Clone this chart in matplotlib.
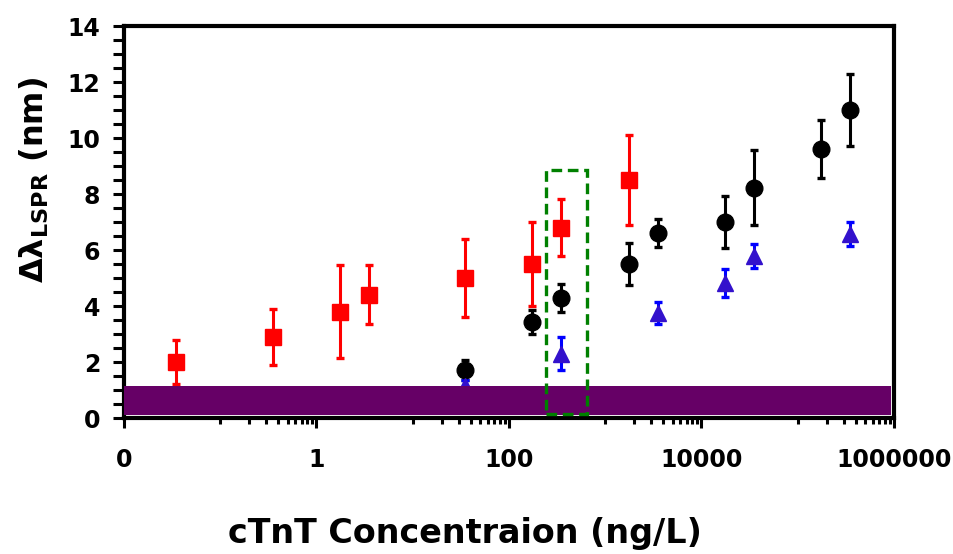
import matplotlib
matplotlib.use("Agg")
import matplotlib.pyplot as plt
from matplotlib.patches import Rectangle
from matplotlib.ticker import FixedLocator, FixedFormatter, NullFormatter

# ---- data ----
red_x = [0.035, 0.35, 1.75, 3.5, 35, 175, 350, 1750]
red_y = [2.0, 2.9, 3.8, 4.4, 5.0, 5.5, 6.8, 8.5]
red_err = [0.8, 1.0, 1.65, 1.05, 1.4, 1.5, 1.03, 1.6]

black_x = [35, 175, 350, 1750, 3500, 17500, 35000, 175000, 350000]
black_y = [1.71, 3.42, 4.3, 5.5, 6.6, 7.0, 8.23, 9.6, 11.0]
black_err = [0.35, 0.42, 0.5, 0.74, 0.5, 0.92, 1.33, 1.03, 1.3]

blue_x = [35, 350, 3500, 17500, 35000, 350000]
blue_y = [1.15, 2.3, 3.75, 4.83, 5.78, 6.58]
blue_err = [0.2, 0.6, 0.4, 0.5, 0.43, 0.42]

band_y = [0.1, 1.15]
box_x = [242, 646]
box_y = [0.14, 8.86]

x_major = [0.01, 1, 100, 10000, 1000000]
x_labels = ["0", "1", "100", "10000", "1000000"]
y_major = [0, 2, 4, 6, 8, 10, 12, 14]

plt.rcParams['font.family'] = ['DejaVu Sans']
plt.rcParams['font.weight'] = 'bold'

fig = plt.figure(figsize=(9.54, 5.54), dpi=100)
ax = fig.add_axes([124/954, 1-418/554, (894-124)/954, (418-26)/554])

ax.set_xscale('log')
ax.set_xlim(0.01, 1000000)
ax.set_ylim(0, 14)

ecap = dict(capsize=2.6, capthick=2.4, elinewidth=2.2)
ax.errorbar(red_x, red_y, yerr=red_err, fmt='s', color='#FF0000', ecolor='#FF0000',
            ms=11.5, mec='#FF0000', zorder=3, **ecap)
ax.errorbar(black_x, black_y, yerr=black_err, fmt='o', color='black', ecolor='black',
            ms=12, zorder=3, **ecap)
ax.errorbar(blue_x, blue_y, yerr=blue_err, fmt='^', color='#3311CC', ecolor='#0000FF',
            ms=11, mec='#3311CC', zorder=3, **ecap)

ax.axhspan(band_y[0], band_y[1], xmin=0, xmax=0.996, color='#660066', lw=0, zorder=4)

rect = Rectangle((box_x[0], box_y[0]), box_x[1]-box_x[0], box_y[1]-box_y[0],
                 fill=False, edgecolor='#008000', lw=2.4, linestyle=(0, (3.2, 1.7)), zorder=5)
ax.add_patch(rect)

# ticks
ax.xaxis.set_major_locator(FixedLocator(x_major))
ax.xaxis.set_major_formatter(FixedFormatter(x_labels))
minors = []
for base in [0.1, 10, 1000, 100000]:
    for m in range(1, 10):
        minors.append(m * base)
ax.xaxis.set_minor_locator(FixedLocator(minors))
ax.xaxis.set_minor_formatter(NullFormatter())

ax.yaxis.set_major_locator(FixedLocator(y_major))
ax.yaxis.set_minor_locator(FixedLocator([i * 0.5 for i in range(29)]))

ax.tick_params(axis='x', which='major', direction='out', length=7.5, width=2.2,
               labelsize=17, pad=14)
ax.tick_params(axis='x', which='minor', direction='out', length=4.5, width=2.2)
ax.tick_params(axis='y', which='major', direction='out', length=8, width=2.2,
               labelsize=17, pad=9)
ax.tick_params(axis='y', which='minor', direction='out', length=8, width=2.2)
for lab in ax.get_xticklabels() + ax.get_yticklabels():
    lab.set_fontweight('bold')

for s in ax.spines.values():
    s.set_linewidth(3)
    s.set_color('black')

fig.text(465/954, 1-543/554, "cTnT Concentraion (ng/L)", fontsize=24,
         fontweight='bold', ha='center', va='baseline')
fig.text(34/954, 1-180/554, r"Δλ$_{\mathbf{LSPR}}$ (nm)", fontsize=23,
         fontweight='bold', rotation=90, ha='center', va='center')

fig.savefig("out.png", dpi=100)
